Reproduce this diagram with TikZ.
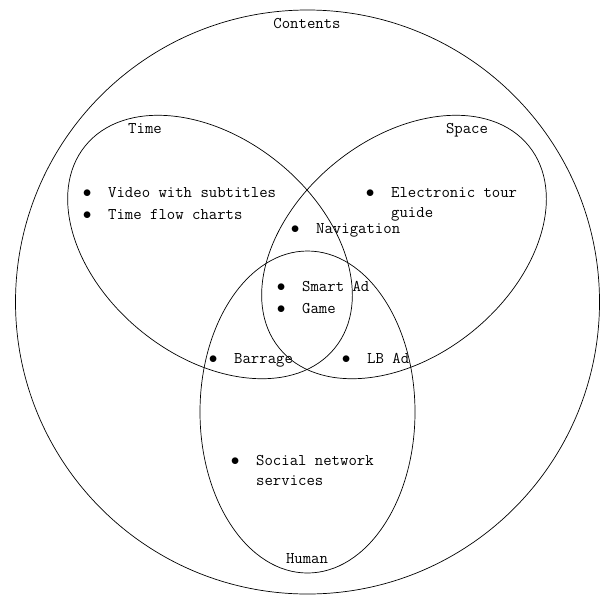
\documentclass[tikz,border=0pt]{standalone}
\usepackage{fontspec}
\usepackage{tikz}
\usetikzlibrary{positioning}
\newcommand{\itm}{\makebox[0pt]{$\bullet$}\hspace*{21pt}}
\newcommand{\ind}{\hspace*{21pt}}

\begin{document}
\begin{tikzpicture}[
    x=1pt, y=-1pt,
    venn/.style={draw=black, line width=0.7pt},
    setlabel/.style={font=\ttfamily\fontsize{16.3}{20.5}\selectfont, inner sep=0pt, anchor=base},
    entry/.style={font=\ttfamily\fontsize{16.3}{20.5}\selectfont, inner sep=0pt, anchor=base west,
                  align=left}
]
\useasboundingbox (0,0) rectangle (604,595);

% Sets
\draw[venn] (307.5,302) circle [radius=292pt];
\draw[venn, rotate around={-39:(210,247)}] (210,247) ellipse [x radius=160.6pt, y radius=108.7pt];
\draw[venn, rotate around={39:(404,247)}] (404,247) ellipse [x radius=160.6pt, y radius=108.7pt];
\draw[venn] (307.5,412) ellipse [x radius=107.5pt, y radius=161pt];

% Set labels
\node[setlabel] (contents) at (307,28) {Contents};
\node[setlabel] (time) at (145,133) {Time};
\node[setlabel] (space) at (467,133) {Space};
\node[setlabel] (human) at (307,563) {Human};

% Entries (multi-line ones sit on their last baseline)
\node[entry] (video) at (87,197) {\itm Video with subtitles};
\node[entry] (flow) at (87,219) {\itm Time flow charts};
\node[entry] (tour) at (370,217.5) {\itm Electronic tour\\\ind guide};
\node[entry] (nav) at (295,233) {\itm Navigation};
\node[entry] (smart) at (281,291) {\itm Smart Ad};
\node[entry] (game) at (281,313) {\itm Game};
\node[entry] (barrage) at (213,363) {\itm Barrage};
\node[entry] (lbad) at (346,363) {\itm LB Ad};
\node[entry] (sns) at (235,485.5) {\itm Social network\\\ind services};

\end{tikzpicture}
\end{document}
